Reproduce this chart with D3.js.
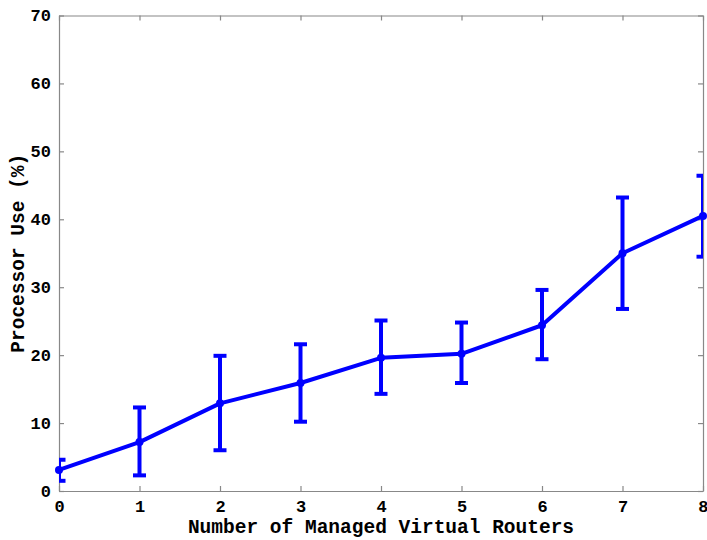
<!DOCTYPE html>
<html>
<head>
<meta charset="utf-8">
<script src="https://cdn.jsdelivr.net/npm/d3@7"></script>
<style>
  html, body { margin: 0; padding: 0; background: #fff; }
  svg { display: block; }
</style>
</head>
<body>
<svg id="chart" width="707" height="540"></svg>
<script>
// Number of managed virtual routers vs. processor load
const routers = [0, 1, 2, 3, 4, 5, 6, 7, 8];
const cpuMean = [3.1, 7.2, 12.9, 15.9, 19.6, 20.2, 24.4, 35.0, 40.5];
const cpuLow  = [1.5, 2.3, 6.0, 10.2, 14.3, 15.9, 19.4, 26.8, 34.5];
const cpuHigh = [4.6, 12.3, 19.9, 21.6, 25.1, 24.8, 29.6, 43.2, 46.4];
const xTicks = [0, 1, 2, 3, 4, 5, 6, 7, 8];
const yTicks = [0, 10, 20, 30, 40, 50, 60, 70];

const svg = d3.select("#chart");
const margin = { left: 59, right: 4, top: 15.5, bottom: 49 };
const W = 707, H = 540;
const x = d3.scaleLinear().domain([0, 8]).range([margin.left, W - margin.right]);
const y = d3.scaleLinear().domain([0, 70]).range([H - margin.bottom, margin.top]);

const font = "'Liberation Mono', 'Courier New', monospace";
const axisColor = "#888";
const blue = "#0000ff";

svg.append("defs").append("clipPath").attr("id", "plotClip")
  .append("rect")
  .attr("x", x(0)).attr("y", y(70))
  .attr("width", x(8) - x(0)).attr("height", y(0) - y(70));

// Axes (ticks inward on all four sides)
function styleAxis(g) {
  g.select(".domain").attr("stroke", axisColor).attr("stroke-width", 1.2);
  g.selectAll(".tick line").attr("stroke", axisColor).attr("stroke-width", 1.2);
  g.selectAll(".tick text")
    .attr("font-family", font).attr("font-weight", "bold")
    .attr("font-size", 17).attr("fill", "#000");
}

const xAxisG = svg.append("g")
  .attr("transform", `translate(0,${y(0)})`)
  .call(d3.axisBottom(x).tickValues(xTicks).tickFormat(d3.format("d"))
    .tickSizeInner(-5).tickSizeOuter(0).tickPadding(9))
  .call(styleAxis);
// keep the rightmost label inside the canvas
xAxisG.selectAll(".tick").filter(d => d === 8).select("text")
  .attr("text-anchor", "end").attr("x", 5);

svg.append("g")
  .attr("transform", `translate(0,${y(70)})`)
  .call(d3.axisTop(x).tickValues(xTicks).tickFormat("")
    .tickSizeInner(-5).tickSizeOuter(0))
  .call(styleAxis);

svg.append("g")
  .attr("transform", `translate(${x(0)},0)`)
  .call(d3.axisLeft(y).tickValues(yTicks).tickFormat(d3.format("d"))
    .tickSizeInner(-5).tickSizeOuter(0).tickPadding(8))
  .call(styleAxis);

svg.append("g")
  .attr("transform", `translate(${x(8)},0)`)
  .call(d3.axisRight(y).tickValues(yTicks).tickFormat("")
    .tickSizeInner(-5).tickSizeOuter(0))
  .call(styleAxis);

// Axis titles
svg.append("text")
  .attr("x", (x(0) + x(8)) / 2).attr("y", 533)
  .attr("text-anchor", "middle")
  .attr("font-family", font).attr("font-weight", "bold").attr("font-size", 19.5)
  .text("Number of Managed Virtual Routers");

svg.append("text")
  .attr("transform", `translate(24,${(y(0) + y(70)) / 2}) rotate(-90)`)
  .attr("text-anchor", "middle")
  .attr("font-family", font).attr("font-weight", "bold").attr("font-size", 19.5)
  .text("Processor Use (%)");

const data = routers.map((r, i) => ({ r, m: cpuMean[i], lo: cpuLow[i], hi: cpuHigh[i] }));

// Error bars
const eb = svg.append("g").attr("clip-path", "url(#plotClip)")
  .attr("stroke", blue).attr("stroke-width", 4).attr("fill", "none");
const capHalf = 6.5;
data.forEach(d => {
  eb.append("line").attr("x1", x(d.r)).attr("x2", x(d.r)).attr("y1", y(d.lo)).attr("y2", y(d.hi));
  eb.append("line").attr("x1", x(d.r) - capHalf).attr("x2", x(d.r) + capHalf).attr("y1", y(d.lo)).attr("y2", y(d.lo));
  eb.append("line").attr("x1", x(d.r) - capHalf).attr("x2", x(d.r) + capHalf).attr("y1", y(d.hi)).attr("y2", y(d.hi));
});

// Mean line
svg.append("path")
  .datum(data)
  .attr("fill", "none").attr("stroke", blue).attr("stroke-width", 4)
  .attr("stroke-linejoin", "round")
  .attr("d", d3.line().x(d => x(d.r)).y(d => y(d.m)));

// Markers
svg.append("g").selectAll("circle").data(data).join("circle")
  .attr("cx", d => x(d.r)).attr("cy", d => y(d.m)).attr("r", 4)
  .attr("fill", blue);
</script>
</body>
</html>
